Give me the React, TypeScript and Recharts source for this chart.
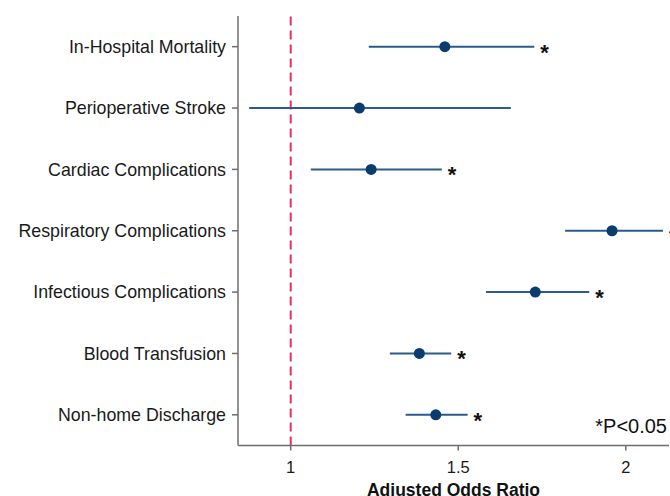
import React from "react";
import { ScatterChart, Scatter, XAxis, YAxis, ErrorBar, ReferenceLine } from "recharts";

const categories = [
  "In-Hospital Mortality",
  "Perioperative Stroke",
  "Cardiac Complications",
  "Respiratory Complications",
  "Infectious Complications",
  "Blood Transfusion",
  "Non-home Discharge",
];
const oddsRatio = [1.46, 1.205, 1.24, 1.959, 1.73, 1.384, 1.433];
const ciLow = [1.233, 0.876, 1.06, 1.819, 1.583, 1.296, 1.343];
const ciHigh = [1.727, 1.657, 1.451, 2.111, 1.891, 1.479, 1.528];
const significant = [true, false, true, true, true, true, true];
const xTicks = [1, 1.5, 2];

const points = categories.map((c, i) => ({
  name: c,
  x: oddsRatio[i],
  y: i + 1,
  err: [oddsRatio[i] - ciLow[i], ciHigh[i] - oddsRatio[i]],
}));
const stars = categories
  .map((c, i) => ({ name: c, x: ciHigh[i], y: i + 1, sig: significant[i] }))
  .filter((d) => d.sig);

const FONT = "'Liberation Sans', Arial, sans-serif";
const AXIS = "#6e6e6e";

const Dot = (p: any) => <circle cx={p.cx} cy={p.cy} r={5.5} fill="#0c3b6d" />;
const Star = (p: any) => (
  <text x={p.cx + 6} y={p.cy + 13} fontSize={22} fontWeight="bold" fill="#111" fontFamily={FONT}>
    *
  </text>
);

export default function App() {
  return (
    <div
      style={{
        position: "fixed",
        left: 0,
        top: 0,
        width: 670,
        height: 496,
        overflow: "hidden",
        background: "#fff",
        fontFamily: FONT,
      }}
    >
      <ScatterChart width={700} height={520} margin={{ top: 16, right: 31, bottom: 20, left: 0 }}>
        <XAxis
          type="number"
          dataKey="x"
          domain={[0.8427, 2.129]}
          ticks={xTicks}
          height={54.5}
          stroke={AXIS}
          strokeWidth={1.5}
          tickSize={5}
          tickMargin={11}
          tick={{ fontSize: 16.5, fill: "#1a1a1a", fontFamily: FONT }}
          label={{
            value: "Adjusted Odds Ratio",
            position: "insideBottom",
            offset: 4,
            fontSize: 17.5,
            fontWeight: "bold",
            fill: "#111",
            fontFamily: FONT,
          }}
        />
        <YAxis
          type="number"
          dataKey="y"
          domain={[0.5, 7.5]}
          reversed
          ticks={[1, 2, 3, 4, 5, 6, 7]}
          interval={0}
          tickFormatter={(v) => categories[v - 1]}
          width={238}
          stroke={AXIS}
          strokeWidth={1.5}
          tickSize={6}
          tickMargin={6}
          tick={{ fontSize: 17.8, fill: "#1a1a1a", fontFamily: FONT }}
        />
        <ReferenceLine x={1} stroke="#e3345c" strokeWidth={2} strokeDasharray="9 5" />
        <Scatter data={points} shape={Dot} isAnimationActive={false}>
          <ErrorBar dataKey="err" direction="x" width={0} stroke="#2d5a8c" strokeWidth={2} isAnimationActive={false} />
        </Scatter>
        <Scatter data={stars} shape={Star} isAnimationActive={false} />
      </ScatterChart>
      <div
        style={{
          position: "absolute",
          right: 3,
          top: 416,
          fontSize: 20,
          lineHeight: "20px",
          color: "#111",
          whiteSpace: "nowrap",
        }}
      >
        *P&lt;0.05
      </div>
    </div>
  );
}
